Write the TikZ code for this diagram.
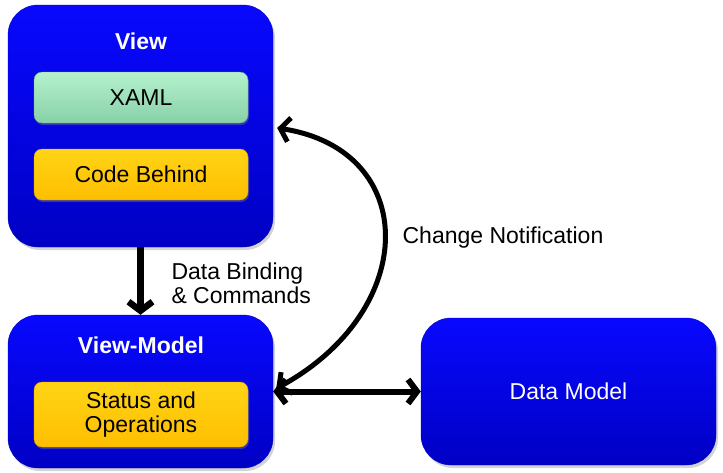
\documentclass[tikz,border=0pt]{standalone}
\usepackage{fontspec}
\setmainfont{Liberation Sans}
\usepackage{tikz}
\usetikzlibrary{arrows.meta,shadows}
\definecolor{blusu}{HTML}{0808FF}
\definecolor{blugiu}{HTML}{0000C4}
\definecolor{verdesu}{HTML}{B4F2CC}
\definecolor{verdegiu}{HTML}{88D0A8}
\definecolor{gialsu}{HTML}{FFD416}
\definecolor{gialgiu}{HTML}{FFBE00}
\begin{document}
\begin{tikzpicture}[
      x=1pt, y=-1pt,
      every node/.style={font=\fontsize{23}{28}\selectfont},
      blocco/.style={rounded corners=30pt, top color=blusu, bottom color=blugiu,
        draw=blugiu, drop shadow={shadow xshift=2pt, shadow yshift=-3pt, opacity=0.35}},
      verde/.style={rounded corners=8pt, top color=verdesu, bottom color=verdegiu,
        draw=verdegiu!80!black, minimum width=214pt, minimum height=51pt,
        drop shadow={shadow xshift=1pt, shadow yshift=-2pt, opacity=0.4}},
      giallo/.style={rounded corners=8pt, top color=gialsu, bottom color=gialgiu,
        draw=gialgiu!85!black, minimum width=214pt,
        drop shadow={shadow xshift=1pt, shadow yshift=-2pt, opacity=0.4}},
      titolo/.style={text=white, font=\fontsize{23}{28}\selectfont\bfseries},
      freccia/.style={line width=6.5pt, -{Straight Barb[length=9pt, width=24pt]}},
      doppia/.style={line width=6pt, {Straight Barb[length=9pt, width=24pt]}-{Straight Barb[length=9pt, width=24pt]}}
    ]
    \useasboundingbox (0,0) rectangle (723,472);
    % Blocchi principali
    \node[blocco, minimum width=265pt, minimum height=242pt] (view) at (140.5,126) {};
    \node[blocco, minimum width=265pt, minimum height=153pt] (vm) at (140.5,391.5) {};
    \node[blocco, minimum width=295pt, minimum height=147pt, text=white] (dm) at (568.5,391.5) {Data Model};
    \node[titolo] (viewlbl) at (141,41) {View};
    \node[titolo] (vmlbl) at (141,345) {View-Model};
    \node[verde] (xaml) at (141,97.5) {XAML};
    \node[giallo, minimum height=51pt] (code) at (141,174.5) {Code Behind};
    \node[giallo, minimum height=65pt, align=center] (status) at (141,414.5) {Status and\\[-4pt]Operations};
    % Frecce
    \draw[freccia] (view.south) -- (vm.north);
    \draw[doppia] (vm.east) -- (dm.west);
    \draw[doppia, line width=5pt] ([xshift=3pt,yshift=3pt]vm.east) .. controls (420,310) and (420,150) .. ([xshift=4pt,yshift=-2pt]view.east);
    % Etichette
    \node[anchor=west, align=left] (bind) at (168,283) {Data Binding\\[-4pt]\& Commands};
    \node (notif) at (503,238) {Change Notification};
  \end{tikzpicture}
\end{document}
